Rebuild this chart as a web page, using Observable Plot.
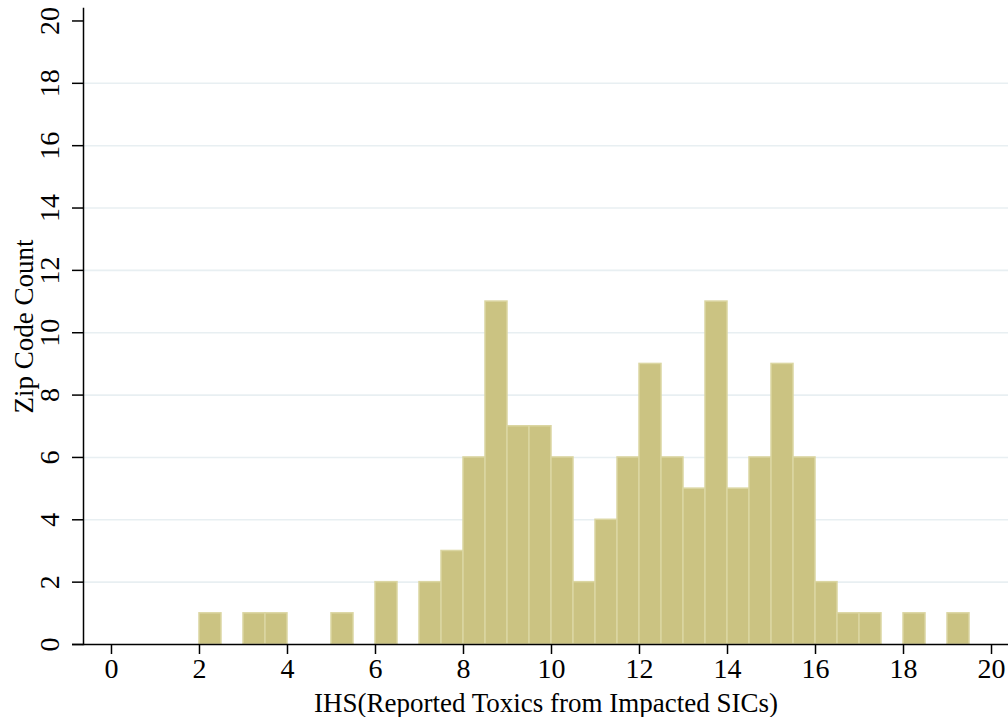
<!DOCTYPE html>
<html>
<head>
<meta charset="utf-8">
<script src="https://cdn.jsdelivr.net/npm/d3@7"></script>
<script src="https://cdn.jsdelivr.net/npm/@observablehq/plot@0.6"></script>
<style>
  html, body { margin: 0; padding: 0; background: #fff; }
  svg { display: block; }
</style>
</head>
<body>
<div id="chart"></div>
<script>
// Histogram bins (left edges) and counts
const binStarts = [2, 3, 3.5, 5, 6, 7, 7.5, 8, 8.5, 9, 9.5, 10, 10.5, 11, 11.5, 12, 12.5, 13, 13.5, 14, 14.5, 15, 15.5, 16, 16.5, 17, 18, 19];
const counts    = [1, 1, 1,   1, 2, 2, 3,   6, 11,  7, 7,   6,  2,    4,  6,    9,  6,    5,  11,   5,  6,    9,  6,    2,  1,    1,  1,  1];
const binWidth = 0.5;
const xTicks = [0, 2, 4, 6, 8, 10, 12, 14, 16, 18, 20];
const yTicks = [0, 2, 4, 6, 8, 10, 12, 14, 16, 18, 20];
const gridValues = [2, 4, 6, 8, 10, 12, 14, 16, 18];
const xTitle = "IHS(Reported Toxics from Impacted SICs)";
const yTitle = "Zip Code Count";

const bins = binStarts.map((s, i) => ({x1: s, x2: s + binWidth, count: counts[i]}));

const font = "'Liberation Serif', 'Times New Roman', serif";

const chart = Plot.plot({
  width: 1008,
  height: 717,
  marginLeft: 83,
  marginRight: 0,
  marginTop: 8,
  marginBottom: 73,
  style: {fontFamily: font, fontSize: "28px", background: "#fff", color: "#000"},
  x: {domain: [-0.636, 20.386], axis: null},
  y: {domain: [0, 20.4], axis: null},
  marks: [
    Plot.ruleY(gridValues, {stroke: "#e8eff2", strokeWidth: 1.6}),
    Plot.rectY(bins, {x1: "x1", x2: "x2", y1: 0, y2: "count", fill: "#cbc382", stroke: "#dbd6a2", strokeWidth: 1.5}),
    // axis lines
    Plot.frame({anchor: "left", stroke: "#000", strokeWidth: 1.5}),
    Plot.ruleY([0], {stroke: "#000", strokeWidth: 1.5, insetLeft: -11}),
    // ticks
    Plot.axisY(yTicks, {tickSize: 11, tickFormat: () => "", stroke: "#000", strokeWidth: 1.5, label: null}),
    Plot.axisX(xTicks, {tickSize: 10, tickFormat: () => "", stroke: "#000", strokeWidth: 1.5, label: null}),
    // tick labels
    Plot.text(xTicks, {x: d => d, text: d => String(d), frameAnchor: "bottom", dy: 25, textAnchor: "middle", lineAnchor: "middle", fontSize: 28, fill: "#000"}),
    Plot.text(yTicks, {y: d => d, text: d => String(d), frameAnchor: "left", dx: -33, rotate: -90, textAnchor: "middle", lineAnchor: "middle", fontSize: 28, fill: "#000"}),
    // titles
    Plot.text([yTitle], {frameAnchor: "left", dx: -59, rotate: -90, textAnchor: "middle", lineAnchor: "middle", fontSize: 27, fill: "#000"}),
    Plot.text([xTitle], {frameAnchor: "bottom", dy: 59, dx: 0, textAnchor: "middle", lineAnchor: "middle", fontSize: 27, fill: "#000", letterSpacing: "1.1px"})
  ]
});

document.getElementById("chart").append(chart);
</script>
</body>
</html>
